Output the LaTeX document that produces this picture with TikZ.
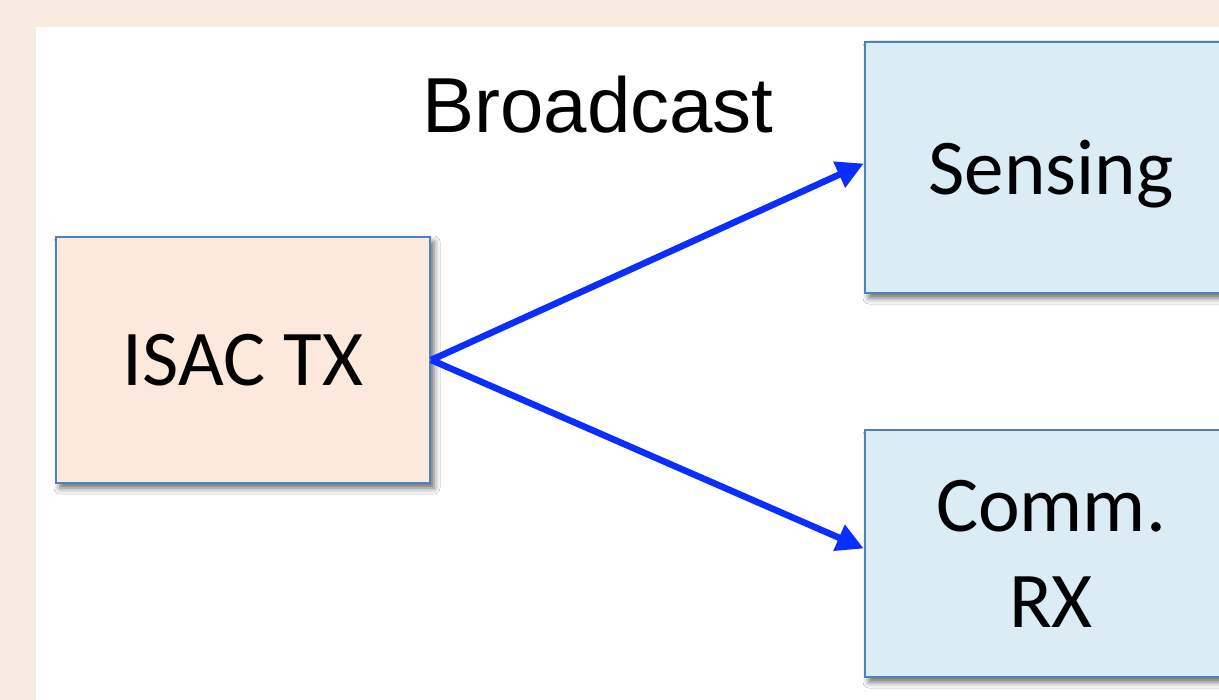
\documentclass[tikz,border=0pt]{standalone}
\usepackage{fontspec}
\setmainfont{Carlito}
\newfontfamily\headfont{Liberation Sans}
\usetikzlibrary{arrows.meta,shadows.blur}
\definecolor{pagebeige}{HTML}{F7ECDF}
\definecolor{txfill}{HTML}{FCE9DB}
\definecolor{rxfill}{HTML}{DBEDF4}
\definecolor{boxline}{HTML}{4F81BD}
\definecolor{linkblue}{HTML}{0A2EFF}
\begin{document}
\begin{tikzpicture}[x=1pt,y=-1pt,
  block/.style={draw=boxline, line width=2.5pt, align=center, inner sep=0pt,
    font=\fontsize{79}{96}\selectfont,
    blur shadow={shadow xshift=4pt, shadow yshift=-5pt, shadow blur radius=6pt, shadow opacity=60}},
  link/.style={draw=linkblue, line width=6.5pt, -{Triangle[length=27pt,width=27pt]}}]
  \clip (0,0) rectangle (1219,700);
  % slide background with white content area
  \fill[pagebeige] (0,0) rectangle (1219,700);
  \fill[white] (36,27) rectangle (1219,700);

  \node[block, fill=txfill, minimum width=374pt, minimum height=246pt] (tx) at (243,360) {ISAC TX};
  \node[block, fill=rxfill, minimum width=372pt, minimum height=251pt, text depth=0pt] (sense) at (1051,167.5) {Sensing};
  \node[block, fill=rxfill, minimum width=372pt, minimum height=247pt] (comm) at (1051,553.5) {Comm.\\RX};

  \node[font=\headfont\fontsize{78}{90}\selectfont, anchor=base] (bc) at (598,133) {Broadcast};

  \draw[link] (tx.east) -- ([yshift=4pt]sense.west);
  \draw[link] (tx.east) -- ([yshift=5pt]comm.west);
\end{tikzpicture}
\end{document}
